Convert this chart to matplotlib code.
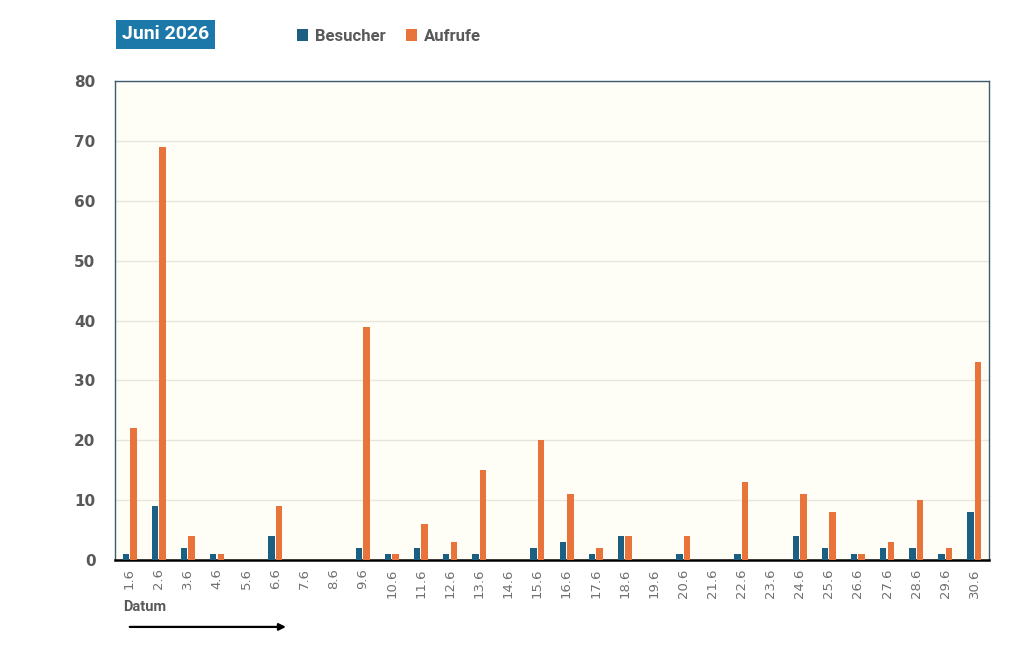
import matplotlib
matplotlib.use("Agg")
import matplotlib.pyplot as plt
import numpy as np

# daily values for June 2026
days = [f"{d}.6" for d in range(1, 31)]
besucher = [1, 9, 2, 1, 0, 4, 0, 0, 2, 1, 2, 1, 1, 0, 2, 3, 1, 4, 0, 1, 0, 1, 0, 4, 2, 1, 2, 2, 1, 8]
aufrufe = [22, 69, 4, 1, 0, 9, 0, 0, 39, 1, 6, 3, 15, 0, 20, 11, 2, 4, 0, 4, 0, 13, 0, 11, 8, 1, 3, 10, 2, 33]

blue = "#1B5F82"
orange = "#E8743B"
gray = "#595959"

fig = plt.figure(figsize=(10.24, 6.62), dpi=100)
ax = fig.add_axes([0.1123, 0.154, 0.8535, 0.7236])
ax.set_facecolor("#FEFEF7")

x = np.arange(len(days))
w = 0.22
ax.bar(x - w / 2 - 0.02, besucher, width=w, color=blue, label="Besucher", zorder=3)
ax.bar(x + w / 2 + 0.02, aufrufe, width=w, color=orange, label="Aufrufe", zorder=3)

ax.set_xlim(-0.5, len(days) - 0.5)
ax.set_ylim(0, 80)
ax.set_yticks(range(0, 81, 10))
ax.yaxis.grid(True, color="#E6E6DE", linewidth=1, zorder=0)
ax.set_xticks(x)
ax.set_xticklabels(days, rotation=90, fontsize=9.5, color="#707070")
for lbl in ax.get_yticklabels():
    lbl.set_fontweight("bold")
    lbl.set_fontsize(11)
    lbl.set_color(gray)
ax.tick_params(axis="both", length=0, pad=6)
ax.tick_params(axis="y", pad=14)

for side in ["left", "top", "right"]:
    ax.spines[side].set_color("#3E5A6E")
    ax.spines[side].set_linewidth(1)
ax.spines["bottom"].set_color("black")
ax.spines["bottom"].set_linewidth(1.8)

# title box
fig.text(0.119, 0.948, "Juni 2026", fontsize=14, fontweight="bold", color="white",
         family="Roboto", va="center", ha="left",
         bbox=dict(boxstyle="square,pad=0.3", facecolor="#1B78A8", edgecolor="none"))

fig.legend(loc="center left", bbox_to_anchor=(0.275, 0.945), ncol=2, frameon=False,
           handlelength=0.7, handleheight=0.7, handletextpad=0.4, columnspacing=1.2,
           prop={"weight": "bold", "size": 12, "family": "Roboto"}, labelcolor=gray)

fig.text(0.12, 0.083, "Datum", fontsize=10.5, fontweight="bold", color=gray, ha="left", va="center",
         family="Roboto")
fig.add_artist(matplotlib.patches.FancyArrowPatch((0.124, 0.053), (0.282, 0.053),
               transform=fig.transFigure, arrowstyle="-|>", mutation_scale=10,
               color="black", linewidth=1.6))

fig.savefig("out.png", dpi=100, facecolor="white")
